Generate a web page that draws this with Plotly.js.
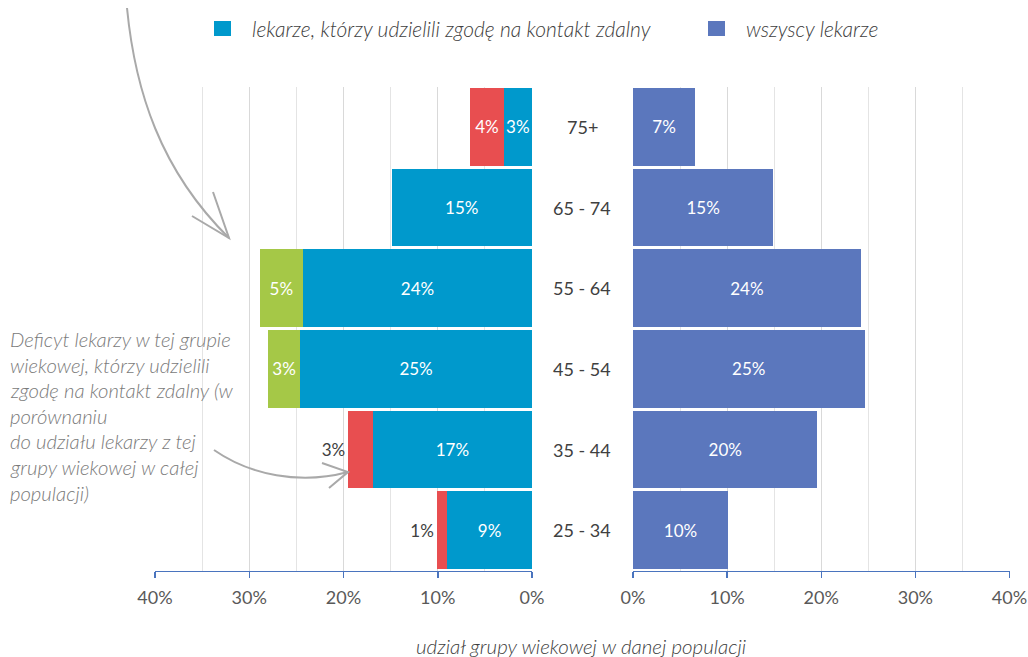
<!DOCTYPE html>
<html>
<head>
<meta charset="utf-8">
<script src="https://cdn.plot.ly/plotly-3.0.1.min.js"></script>
<style>html,body{margin:0;padding:0;background:#fff}#chart{width:1028px;height:657px}</style>
</head>
<body>
<div id="chart"></div>
<script>
// ---- data (bottom to top) ----
var categories = ['25 - 34', '35 - 44', '45 - 54', '55 - 64', '65 - 74', '75+'];
// share of consenting doctors, common part with all doctors
var consentCommon = [9.0, 16.9, 24.6, 24.3, 14.9, 3.0];
// deficit of consenting doctors vs all doctors (red)
var deficit = [1.1, 2.6, null, null, null, 3.55];
// surplus of consenting doctors vs all doctors (green)
var surplus = [null, null, 3.4, 4.6, null, null];
// all doctors
var allDoctors = [10.1, 19.6, 24.6, 24.2, 14.9, 6.6];
var tickValues = [0, 10, 20, 30, 40];
var tickLabels = ['0%', '10%', '20%', '30%', '40%'];

var legendLabels = ['lekarze, którzy udzielili zgodę na kontakt zdalny', 'wszyscy lekarze'];
var noteLines = ['Deficyt lekarzy w tej grupie', 'wiekowej, którzy udzielili', 'zgodę na kontakt zdalny (w',
  'porównaniu', 'do udziału lekarzy z tej', 'grupy wiekowej w całej', 'populacji)'];
var axisTitle = 'udział grupy wiekowej w danej populacji';

// ---- styles ----
var W = 1028, H = 657;
var C_BLUE = '#0099cc', C_ALL = '#5b77bd', C_RED = '#e84e50', C_GREEN = '#a5c847';
var FONT = 'Lato, "Open Sans", sans-serif';
function px(x) { return x / W; }
function py(y) { return 1 - y / H; }
function pathPx(cmds) {
  return cmds.map(function (c) {
    if (typeof c === 'string') return c;
    return px(c[0]).toFixed(5) + ',' + py(c[1]).toFixed(5);
  }).join(' ');
}

var labelFont = {family: FONT, size: 17, color: '#ffffff'};
function barTrace(xs, xaxis, color, extra) {
  var t = {type: 'bar', orientation: 'h', y: categories, x: xs, xaxis: xaxis, yaxis: 'y',
    marker: {color: color, line: {width: 0}}, texttemplate: '%{x:.0f}%', textposition: 'inside',
    insidetextanchor: 'middle', textangle: 0, constraintext: 'none', insidetextfont: labelFont,
    showlegend: false, hoverinfo: 'skip'};
  for (var k in extra) t[k] = extra[k];
  return t;
}
var traces = [
  barTrace(consentCommon, 'x', C_BLUE, {}),
  barTrace(surplus, 'x', C_GREEN, {}),
  barTrace(deficit, 'x', C_RED, {
    textposition: ['outside', 'outside', 'none', 'none', 'none', 'inside'], cliponaxis: false,
    outsidetextfont: {family: FONT, size: 17, color: '#404040'}}),
  barTrace(allDoctors, 'x2', C_ALL, {})
];

function xAxis(domain, range) {
  return {
    domain: domain, range: range, anchor: 'y', tickmode: 'array', tickvals: tickValues, ticktext: tickLabels,
    showgrid: true, gridcolor: '#d9d9d9', gridwidth: 1,
    minor: {dtick: 5, tick0: 0, showgrid: true, gridcolor: '#e4e4e4', gridwidth: 1, ticks: ''},
    ticks: 'outside', ticklen: 6, tickwidth: 1.5, tickcolor: '#4a74be',
    showline: true, linecolor: '#4a74be', linewidth: 1.5, zeroline: false,
    tickfont: {family: FONT, size: 18, color: '#595959'}, ticklabelstandoff: 4, fixedrange: true
  };
}

var annotations = [];
categories.forEach(function (c) {
  annotations.push({xref: 'paper', yref: 'y', x: px(582), y: c, text: c, showarrow: false,
    xanchor: 'center', yanchor: 'middle', font: {family: FONT, size: 18, color: '#404040'}});
});
var italicFont = function (size, color) {
  return {family: FONT, size: size, color: color, style: 'italic', weight: 300};
};
annotations.push({xref: 'paper', yref: 'paper', x: px(250), y: py(28), text: legendLabels[0], showarrow: false,
  xanchor: 'left', yanchor: 'middle', font: italicFont(21, '#404040')});
annotations.push({xref: 'paper', yref: 'paper', x: px(744), y: py(28), text: legendLabels[1], showarrow: false,
  xanchor: 'left', yanchor: 'middle', font: italicFont(21, '#404040')});
annotations.push({xref: 'paper', yref: 'paper', x: px(581), y: py(646), text: axisTitle, showarrow: false,
  xanchor: 'center', yanchor: 'middle', font: italicFont(20.5, '#404040')});
noteLines.forEach(function (line, i) {
  annotations.push({xref: 'paper', yref: 'paper', x: px(8), y: py(339 + i * 25.6), text: line, showarrow: false,
    xanchor: 'left', yanchor: 'middle', align: 'left', font: italicFont(20.3, '#7a7a7a')});
});

var arrowLine = {color: '#a9a9a9', width: 2};
var shapes = [
  {type: 'rect', xref: 'paper', yref: 'paper', x0: px(214), x1: px(231), y0: py(21), y1: py(36),
   fillcolor: C_BLUE, line: {width: 0}},
  {type: 'rect', xref: 'paper', yref: 'paper', x0: px(708), x1: px(725), y0: py(21), y1: py(36),
   fillcolor: C_ALL, line: {width: 0}},
  {type: 'path', xref: 'paper', yref: 'paper', line: arrowLine,
   path: pathPx(['M', [127, 8], 'C', [135, 90], [160, 170], [229, 238]])},
  {type: 'path', xref: 'paper', yref: 'paper', line: arrowLine,
   path: pathPx(['M', [213, 192], 'L', [229, 238], 'L', [192, 216]])},
  {type: 'path', xref: 'paper', yref: 'paper', line: arrowLine,
   path: pathPx(['M', [214, 450], 'C', [250, 475], [300, 485], [348, 472]])},
  {type: 'path', xref: 'paper', yref: 'paper', line: arrowLine,
   path: pathPx(['M', [322, 463], 'L', [348, 472], 'L', [329, 488]])}
];

var layout = {
  width: W, height: H, margin: {l: 0, r: 0, t: 0, b: 0},
  paper_bgcolor: '#ffffff', plot_bgcolor: 'rgba(0,0,0,0)',
  barmode: 'stack', bargap: 0.04, showlegend: false,
  font: {family: FONT},
  xaxis: xAxis([px(155), px(532)], [40, 0]),
  xaxis2: xAxis([px(633), px(1009.5)], [0, 40]),
  yaxis: {domain: [py(570.5), py(86.5)], type: 'category', categoryorder: 'array', categoryarray: categories,
    range: [-0.5, 5.5], showticklabels: false, showgrid: false, zeroline: false, showline: false, fixedrange: true},
  annotations: annotations, shapes: shapes
};

Plotly.newPlot('chart', traces, layout, {displayModeBar: false, staticPlot: true});
</script>
</body>
</html>
